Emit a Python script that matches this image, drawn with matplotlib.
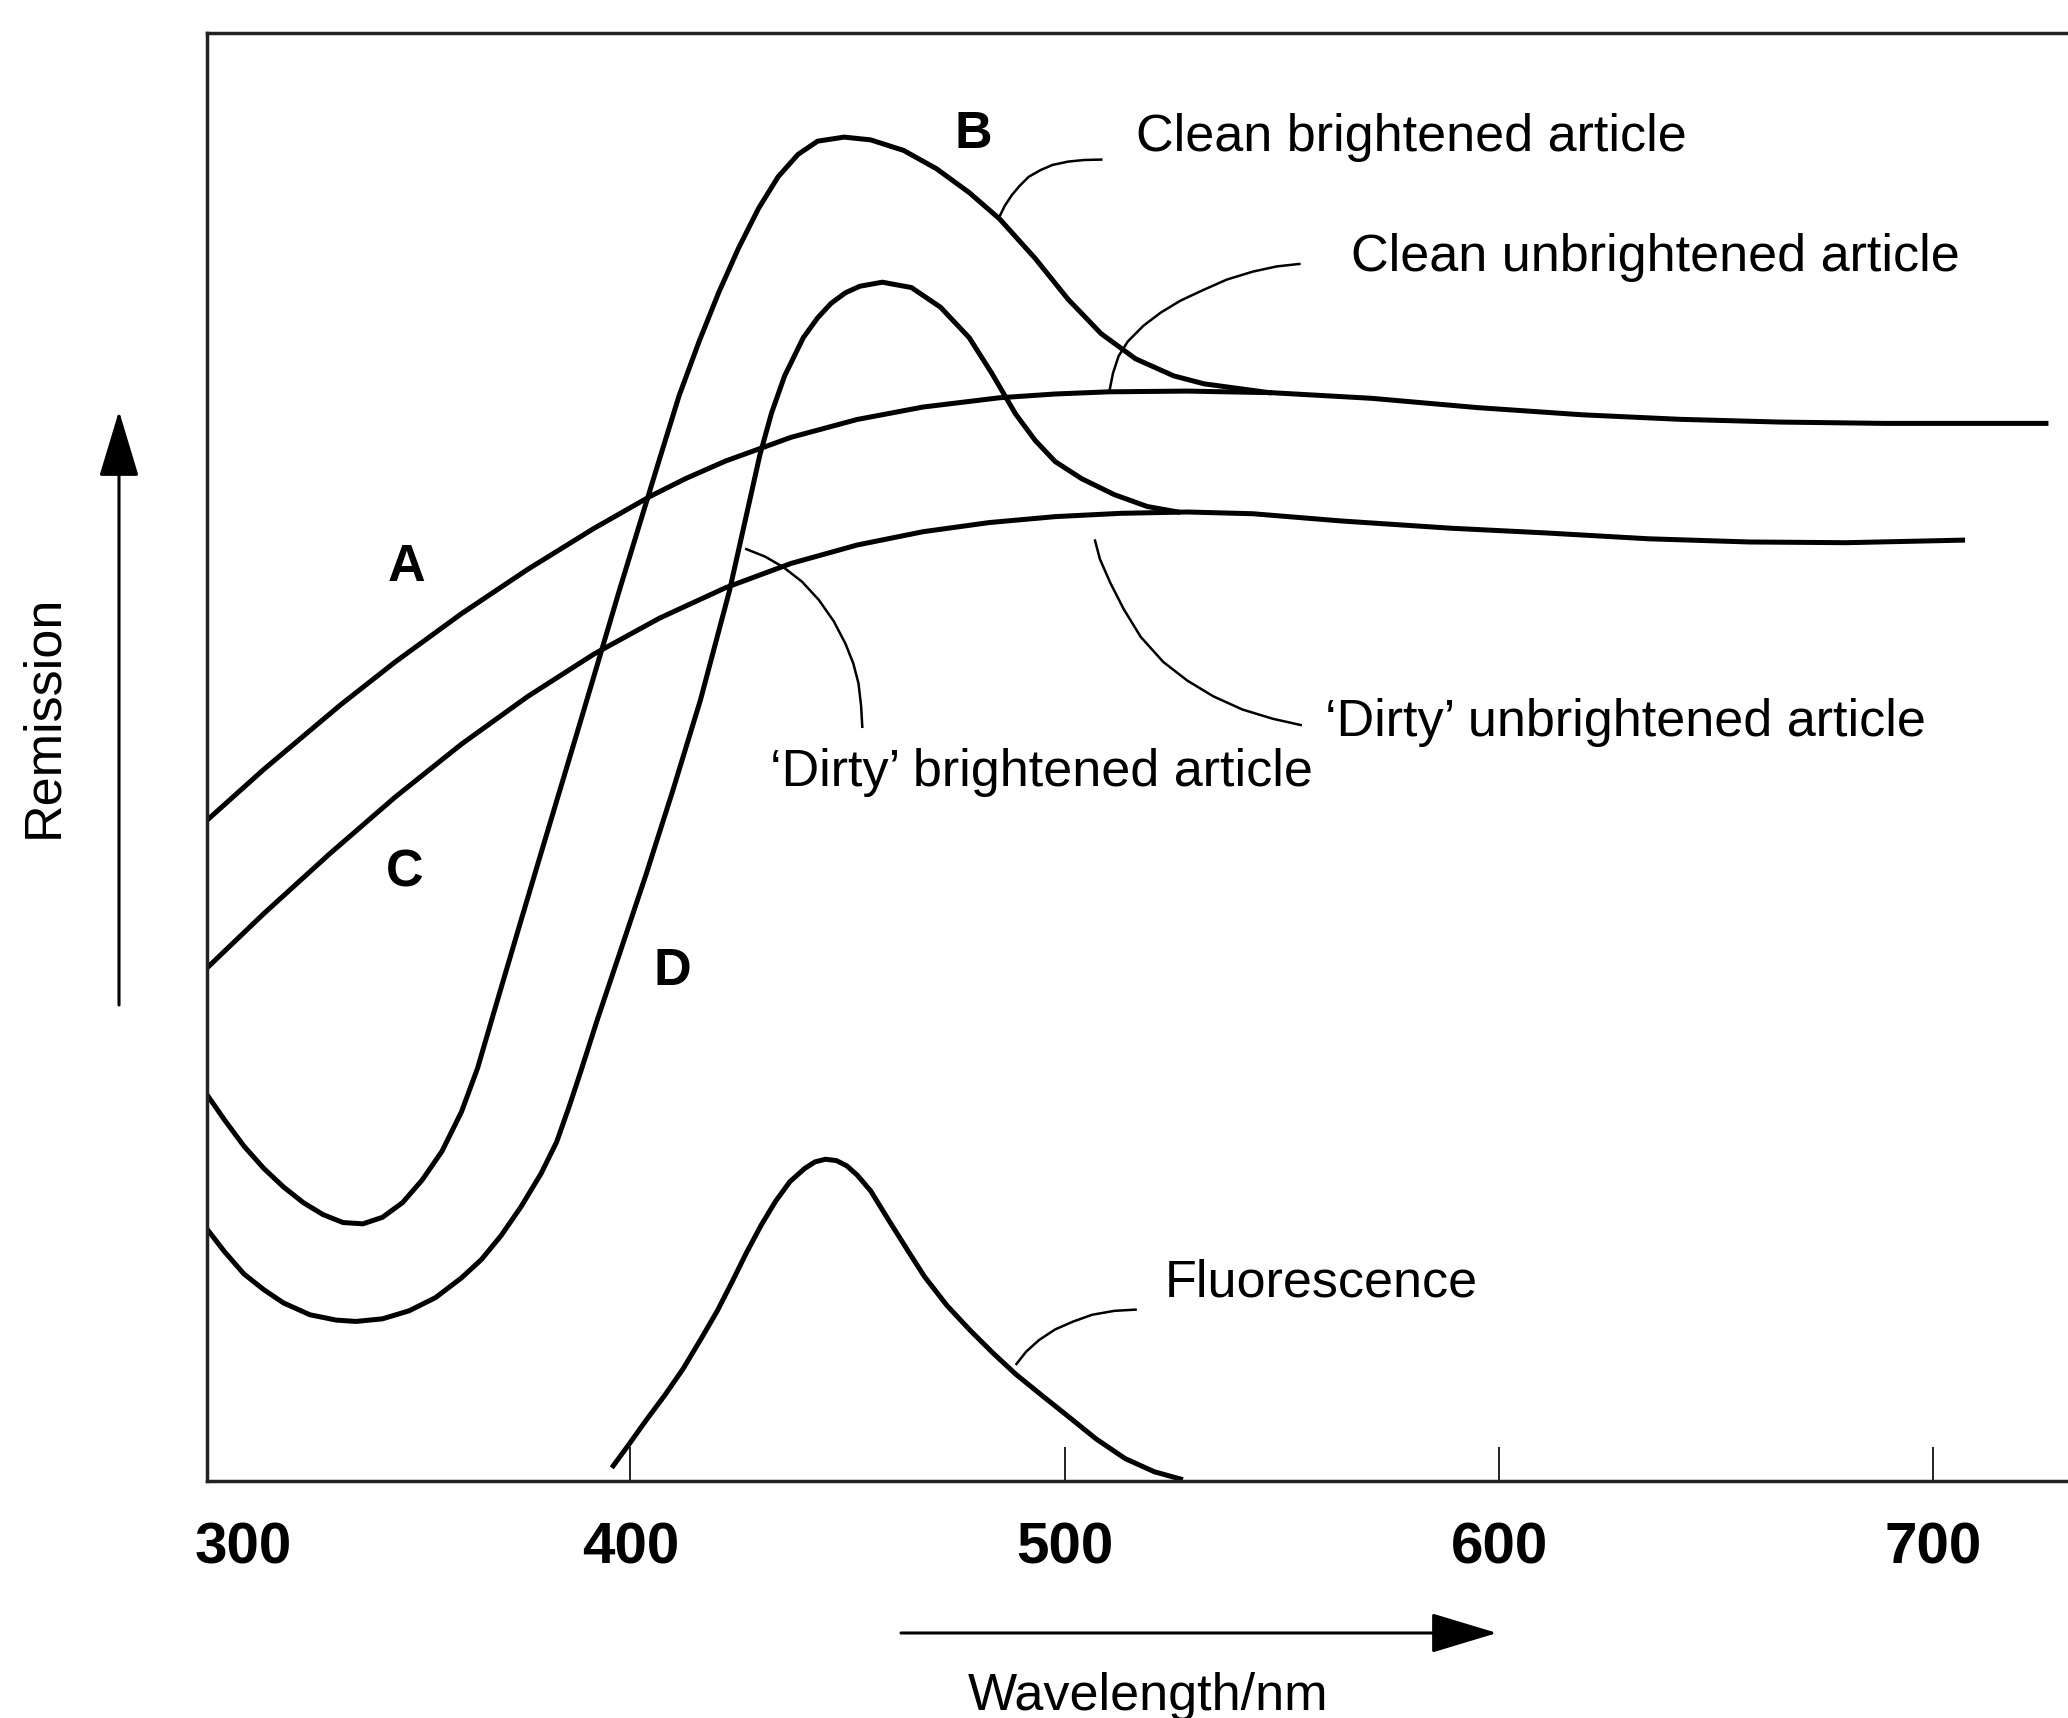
import matplotlib
matplotlib.use("Agg")
import matplotlib.pyplot as plt
from matplotlib.patches import FancyArrowPatch, ArrowStyle

plt.rcParams['font.family'] = ['Liberation Sans', 'DejaVu Sans']

# ---------------- data (wavelength in nm, remission in arbitrary units 0-100) -------------
# A: clean unbrightened article
wl_A = [302.5, 315.6, 333.2, 345.9, 361.1, 376.3, 391.5, 404.6, 412.8, 421.9, 437.0,
        452.2, 467.4, 485.0, 497.8, 510.2, 528.2, 547.6, 570.7, 595.0, 619.3, 641.7,
        664.8, 688.8, 726.5]
rem_A = [45.63, 49.15, 53.59, 56.58, 59.90, 62.95, 65.77, 68.01, 69.24, 70.44, 72.08,
         73.31, 74.17, 74.81, 75.07, 75.22, 75.27, 75.16, 74.77, 74.13, 73.63, 73.32,
         73.13, 73.04, 73.04]

# B: clean brightened article
wl_B = [302.5, 306.5, 311.0, 315.6, 320.1, 324.7, 329.2, 333.8, 338.4, 342.9, 347.5,
        352.0, 356.6, 361.1, 364.8, 368.7, 374.8, 379.4, 388.5, 397.6, 406.7, 411.2,
        415.8, 420.3, 424.9, 429.5, 434.0, 438.6, 443.1, 449.2, 455.3, 462.9, 470.5,
        478.0, 485.0, 493.2, 500.8, 508.4, 516.3, 525.1, 532.1, 547.6]
rem_B = [26.68, 24.95, 23.13, 21.58, 20.31, 19.22, 18.40, 17.85, 17.76, 18.21, 19.22,
         20.77, 22.77, 25.50, 28.51, 32.51, 38.71, 43.35, 52.46, 61.66, 70.58, 74.95,
         78.69, 82.06, 85.15, 87.89, 90.07, 91.62, 92.53, 92.81, 92.62, 91.89, 90.62,
         88.98, 87.16, 84.43, 81.60, 79.23, 77.50, 76.32, 75.77, 75.14]

# C: 'dirty' unbrightened article
wl_C = [302.5, 315.6, 330.8, 345.9, 361.1, 376.3, 391.5, 406.7, 421.9, 437.0, 452.2,
        467.4, 482.6, 497.8, 513.0, 528.2, 543.3, 563.7, 588.9, 610.4, 634.4, 657.5,
        680.0, 707.3]
rem_C = [35.43, 39.19, 43.33, 47.25, 50.89, 54.17, 57.09, 59.59, 61.69, 63.37, 64.64,
         65.56, 66.19, 66.60, 66.83, 66.92, 66.80, 66.30, 65.80, 65.48, 65.07, 64.85,
         64.80, 64.98]

# D: 'dirty' brightened article
wl_D = [302.5, 306.5, 311.0, 315.6, 320.1, 326.2, 332.3, 336.8, 342.9, 349.0, 355.1,
        361.1, 365.7, 370.2, 374.8, 379.4, 383.0, 386.0, 388.5, 392.4, 397.6, 403.6,
        409.7, 416.1, 422.8, 426.4, 429.8, 432.5, 435.5, 439.8, 443.1, 446.2, 449.5,
        452.8, 458.0, 464.7, 471.4, 478.0, 483.2, 488.7, 493.2, 497.8, 503.9, 511.4,
        519.0, 526.6]
rem_D = [17.40, 15.85, 14.30, 13.21, 12.30, 11.48, 11.11, 11.02, 11.20, 11.75, 12.66,
         14.03, 15.30, 16.94, 18.94, 21.22, 23.41, 25.96, 28.23, 31.88, 36.52, 41.89,
         47.63, 53.92, 61.48, 66.30, 70.86, 73.77, 76.32, 78.96, 80.33, 81.33, 82.06,
         82.51, 82.79, 82.42, 81.06, 78.96, 76.50, 73.68, 71.86, 70.40, 69.22, 68.12,
         67.30, 66.89]

# Fluorescence
wl_F = [395.7, 399.7, 403.6, 407.9, 412.1, 416.1, 420.0, 423.4, 426.7, 430.1, 433.4,
        436.7, 440.1, 442.5, 444.9, 447.4, 449.8, 452.2, 455.3, 459.8, 464.4, 467.7,
        472.9, 478.3, 483.5, 488.7, 494.7, 500.8, 507.2, 513.9, 520.6, 527.2]
rem_F = [0.91, 2.55, 4.19, 5.92, 7.74, 9.74, 11.75, 13.75, 15.76, 17.67, 19.31,
         20.67, 21.58, 22.04, 22.22, 22.13, 21.77, 21.13, 20.04, 17.85, 15.66, 14.12,
         12.11, 10.38, 8.83, 7.38, 5.92, 4.46, 2.91, 1.55, 0.64, 0.09]

tick_values = [400, 500, 600, 700]
tick_labels = ['400', '500', '600', '700']
first_label = '300'

curve_letters = ['A', 'B', 'C', 'D']
curve_names = ['Clean brightened article', 'Clean unbrightened article',
               '\u2018Dirty\u2019 unbrightened article', '\u2018Dirty\u2019 brightened article',
               'Fluorescence']

# ---------------- figure ----------------
W, H = 2068, 1718
fig = plt.figure(figsize=(W / 100, H / 100), dpi=100)
ax = fig.add_axes([207 / W, 237 / H, 1861 / W, 1448 / H])
ax.set_xlim(302.5, 731.0)
ax.set_ylim(0, 100)

ax.spines['right'].set_visible(False)
for s in ['top', 'left', 'bottom']:
    ax.spines[s].set_linewidth(2.5)
    ax.spines[s].set_color('#222222')

ax.set_yticks([])
ax.set_xticks(tick_values, tick_labels)
ax.tick_params(axis='x', direction='in', length=24.5, width=1.4, pad=29.5,
               labelsize=42, color='#222222')
for lbl in ax.get_xticklabels():
    lbl.set_fontweight('bold')
ax.text(310.8, -41 / 1448, first_label, transform=ax.get_xaxis_transform(),
        ha='center', va='top', fontsize=42, fontweight='bold')

lw = 3.6
for x, y in [(wl_A, rem_A), (wl_B, rem_B), (wl_C, rem_C), (wl_D, rem_D), (wl_F, rem_F)]:
    ax.plot(x, y, color='black', lw=lw, solid_joinstyle='round', solid_capstyle='butt')

# leader lines (annotation geometry)
leaders = [
    ([485.0, 486.2, 487.8, 489.6, 491.7, 494.4, 497.2, 500.8, 504.5, 508.7],
     [87.34, 88.07, 88.80, 89.44, 90.07, 90.53, 90.89, 91.12, 91.23, 91.26]),
    ([510.2, 511.1, 512.4, 514.5, 518.1, 522.1, 526.6, 531.8, 537.3, 543.3, 548.8, 554.3],
     [75.14, 76.50, 77.69, 78.69, 79.78, 80.69, 81.51, 82.24, 82.97, 83.52, 83.88, 84.06]),
    ([506.9, 508.1, 510.5, 513.6, 517.5, 522.7, 528.2, 534.2, 540.9, 547.9, 554.6],
     [65.03, 63.66, 62.02, 60.20, 58.29, 56.56, 55.28, 54.19, 53.28, 52.64, 52.19]),
    ([426.4, 431.0, 435.2, 439.5, 443.4, 446.8, 449.5, 451.3, 452.5, 453.1, 453.4],
     [64.39, 63.84, 63.11, 62.11, 60.84, 59.38, 57.83, 56.47, 55.10, 53.55, 52.00]),
    ([488.7, 491.1, 494.1, 497.8, 502.0, 506.3, 511.4, 516.6],
     [8.01, 8.93, 9.74, 10.47, 11.02, 11.48, 11.75, 11.84]),
]
for lx, ly in leaders:
    ax.plot(lx, ly, color='black', lw=1.8, solid_joinstyle='round', solid_capstyle='butt')

fs = 37.5
name_pos = [(516.3, 92.8, 'left'), (565.8, 84.5, 'left'), (560.0, 52.4, 'left'),
            (494.7, 48.9, 'center'), (523.0, 13.7, 'left')]
for (tx, ty, ha), name in zip(name_pos, curve_names):
    ax.text(tx, ty, name, ha=ha, va='center', fontsize=fs)

letter_pos = [(348.4, 63.1), (479.0, 93.0), (348.1, 42.0), (409.7, 35.2)]
for (tx, ty), letter in zip(letter_pos, curve_letters):
    ax.text(tx, ty, letter, ha='center', va='center', fontsize=fs, fontweight='bold')

# axis arrows
style = ArrowStyle('-|>', head_length=41.8, head_width=12.6)
arr_y = FancyArrowPatch((119 / W, 1 - 1005 / H), (119 / W, 1 - 411 / H),
                        transform=fig.transFigure, arrowstyle=style, mutation_scale=1,
                        lw=2.2, color='black', shrinkA=0, shrinkB=0)
arr_x = FancyArrowPatch((901 / W, 1 - 1633 / H), (1497 / W, 1 - 1633 / H),
                        transform=fig.transFigure, arrowstyle=style, mutation_scale=1,
                        lw=2.2, color='black', shrinkA=0, shrinkB=0)
fig.add_artist(arr_y)
fig.add_artist(arr_x)

fig.text(44 / W, 1 - 716 / H, 'Remission', rotation=90, ha='center', va='center', fontsize=fs)
fig.text(1148 / W, 8 / H, 'Wavelength/nm', ha='center', va='baseline', fontsize=fs)

fig.savefig('out.png', dpi=100, facecolor='white')
